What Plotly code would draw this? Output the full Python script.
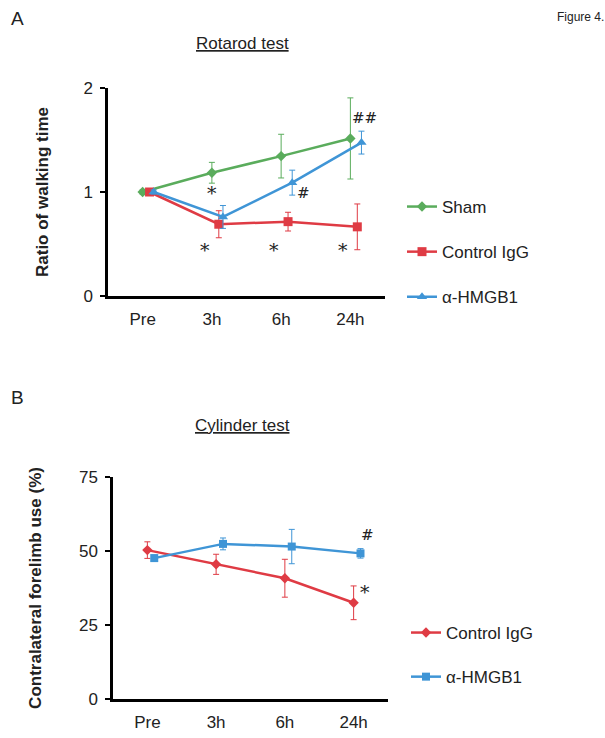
import plotly.graph_objects as go

W, H = 605, 738
FONT = "Liberation Sans, Arial, sans-serif"

categories = ["Pre", "3h", "6h", "24h"]

# Panel A: Rotarod test (ratio of walking time)
sham_vals = [1.0, 1.185, 1.345, 1.515]
sham_err = [0.02, 0.10, 0.21, 0.39]
ctrl_a_vals = [1.0, 0.69, 0.715, 0.665]
ctrl_a_err = [0.02, 0.13, 0.09, 0.22]
hmgb_a_vals = [1.0, 0.76, 1.09, 1.475]
hmgb_a_err = [0.02, 0.11, 0.12, 0.11]

# Panel B: Cylinder test (contralateral forelimb use, %)
ctrl_b_vals = [50.3, 45.5, 40.8, 32.5]
ctrl_b_err = [2.8, 3.4, 6.4, 5.7]
hmgb_b_vals = [47.6, 52.4, 51.5, 49.2]
hmgb_b_err = [1.0, 2.0, 5.8, 1.6]

# significance marks: (text, category index, y value)
marks_a = [("*", 1, 0.99), ("*", 0.9, 0.44), ("*", 1.9, 0.44), ("*", 2.9, 0.44),
           ("#", 2.33, 0.99), ("##", 3.2, 1.71)]
marks_b = [("#", 3.2, 55.4), ("*", 3.17, 36.0)]

GREEN = "#5aac5c"
RED = "#df3b44"
BLUE = "#3f95d6"

def xs(offset):
    return [i + offset for i in range(len(categories))]

def px_x(a, b):
    return [a / W, b / W]

def px_y(top, bottom):
    return [1 - bottom / H, 1 - top / H]

fig = go.Figure()

def add(name, vals, err, color, symbol, size, offset, xa, ya, legend, group):
    fig.add_trace(go.Scatter(
        x=xs(offset), y=vals, name=name, mode="lines+markers",
        line=dict(color=color, width=2.5),
        marker=dict(color=color, symbol=symbol, size=size),
        error_y=dict(type="data", array=err, color=color, thickness=1, width=3),
        xaxis=xa, yaxis=ya, legend=legend, legendgroup=group,
    ))

add("Sham", sham_vals, sham_err, GREEN, "diamond", 8, 0.0, "x", "y", "legend", "a1")
add("Control IgG", ctrl_a_vals, ctrl_a_err, RED, "square", 9, 0.1, "x", "y", "legend", "a2")
add("α-HMGB1", hmgb_a_vals, hmgb_a_err, BLUE, "triangle-up", 9, 0.16, "x", "y", "legend", "a3")
add("Control IgG", ctrl_b_vals, ctrl_b_err, RED, "diamond", 8, 0.0, "x2", "y2", "legend2", "b1")
add("α-HMGB1", hmgb_b_vals, hmgb_b_err, BLUE, "square", 8, 0.1, "x2", "y2", "legend2", "b2")

axis_common = dict(showline=True, linecolor="black", linewidth=2.5, showgrid=False,
                   zeroline=False, automargin=False,
                   tickfont=dict(family=FONT, size=17, color="#222"))

fig.update_layout(
    width=W, height=H, margin=dict(l=0, r=0, t=0, b=0, autoexpand=False),
    paper_bgcolor="white", plot_bgcolor="white",
    font=dict(family=FONT, color="#222"),
    xaxis=dict(domain=px_x(108, 385), range=[-0.5, 3.5], anchor="y",
               tickvals=list(range(len(categories))), ticktext=categories,
               ticks="", ticklabelstandoff=6, **axis_common),
    yaxis=dict(domain=px_y(88, 296), range=[0, 2], anchor="x",
               tickvals=[0, 1, 2], ticks="outside", ticklen=5, tickwidth=2,
               tickcolor="black", ticklabelstandoff=4,
               title=dict(text="<b>Ratio of walking time</b>", font=dict(family=FONT, size=17, color="#222"),
                          standoff=31),
               **axis_common),
    xaxis2=dict(domain=px_x(113, 388), range=[-0.5, 3.5], anchor="y2",
                tickvals=list(range(len(categories))), ticktext=categories,
                ticks="", ticklabelstandoff=6, **axis_common),
    yaxis2=dict(domain=px_y(477, 699), range=[0, 75], anchor="x2",
                tickvals=[0, 25, 50, 75], ticks="outside", ticklen=5, tickwidth=2,
                tickcolor="black", ticklabelstandoff=4,
                title=dict(text="<b>Contralateral forelimb use (%)</b>", font=dict(family=FONT, size=17, color="#222"),
                           standoff=33),
                **axis_common),
    legend=dict(x=402 / W, y=1 - 189 / H, xanchor="left", yanchor="top",
                font=dict(family=FONT, size=17, color="#222"), itemwidth=30,
                tracegroupgap=20, bgcolor="rgba(0,0,0,0)"),
    legend2=dict(x=406 / W, y=1 - 615 / H, xanchor="left", yanchor="top",
                 font=dict(family=FONT, size=17, color="#222"), itemwidth=30,
                 tracegroupgap=19, bgcolor="rgba(0,0,0,0)"),
)

for text, cx, cy in marks_a:
    fig.add_annotation(x=cx, y=cy, xref="x", yref="y", text=text, showarrow=False,
                       font=dict(family="DejaVu Serif, serif", size=19 if text == "*" else 15, color="#222"))
for text, cx, cy in marks_b:
    fig.add_annotation(x=cx, y=cy, xref="x2", yref="y2", text=text, showarrow=False,
                       font=dict(family="DejaVu Serif, serif", size=19 if text == "*" else 15, color="#222"))

def label(text, x, y, size):
    fig.add_annotation(x=x / W, y=1 - y / H, xref="paper", yref="paper", text=text,
                       xanchor="center", yanchor="middle", showarrow=False,
                       font=dict(family=FONT, size=size, color="#222"))

label("<u>Rotarod test</u>", 242, 44, 17)
label("<u>Cylinder test</u>", 243, 425, 17)
label("A", 17, 18, 19)
label("B", 17, 397, 19)
label("Figure 4.", 580, 17, 12)

fig.write_html("out.html", config={"displayModeBar": False},
               post_script="document.body.style.margin='0';")
